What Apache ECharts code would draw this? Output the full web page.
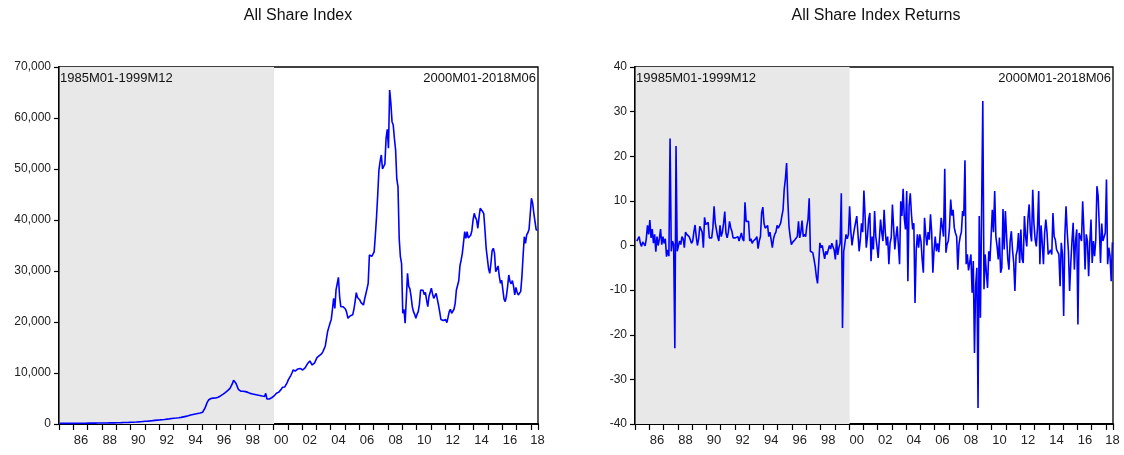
<!DOCTYPE html>
<html><head><meta charset="utf-8">
<script src="https://cdn.jsdelivr.net/npm/echarts@6/dist/echarts.min.js"></script>
<style>html,body{margin:0;padding:0;background:#fff}#c{width:1124px;height:455px}</style>
</head><body><div id="c"></div>
<script>
// ---- period ----
const startYear = 1985;
const endYear = 2018;
const endMonth = 6;
const shadeStart = '1985M01';
const shadeEnd = '2000M01';

// ---- All Share Index, monthly ----
const asi1985 = [117,118,119,120,121,122,123,124,125,126,126,127];
const asi1986 = [130,133,136,139,142,145,148,151,154,157,160,164];
const asi1987 = [166,168,170,172,174,176,178,180,183,185,188,191];
const asi1988 = [194,198,202,205,209,213,217,220,224,227,230,234];
const asi1989 = [240,247,254,261,268,275,283,290,298,306,315,325];
const asi1990 = [335,345,358,370,385,400,415,432,450,470,490,514];
const asi1991 = [530,550,570,590,612,635,660,685,710,735,760,783];
const asi1992 = [800,820,845,870,895,920,950,980,1010,1040,1075,1108];
const asi1993 = [1130,1150,1170,1190,1215,1250,1300,1350,1400,1450,1500,1544];
const asi1994 = [1600,1680,1750,1800,1850,1900,1950,2000,2050,2100,2150,2205];
const asi1995 = [2300,2600,3100,3700,4300,4700,4900,5000,5050,5080,5100,5092];
const asi1996 = [5150,5250,5350,5500,5650,5800,6000,6150,6350,6550,6800,6992];
const asi1997 = [7300,7900,8600,8400,8000,7400,6800,6500,6450,6500,6420,6440];
const asi1998 = [6350,6300,6200,6100,6000,5950,5900,5850,5800,5750,5700,5673];
const asi1999 = [5600,5520,5480,5450,5400,6000,4900,4830,4900,5040,5150,5266];
const asi2000 = [5500,5700,6020,6100,6250,6340,6800,7200,7320,7270,7600,8111];
const asi2001 = [8700,8960,9500,10000,10590,10500,10400,10600,10800,11040,10900,10963];
const asi2002 = [10590,10800,11000,11300,11800,12100,12350,12000,11570,11800,12000,12138];
const asi2003 = [13000,13330,13400,13500,13800,14200,14510,15300,16800,18200,19000,19800];
const asi2004 = [20500,22500,24640,22680,26280,27500,28760,25000,23000,22680,23000,23270];
const asi2005 = [22500,21800,20730,21000,21240,21500,21400,22500,24000,25750,24800,24710];
const asi2006 = [24300,23800,23500,23330,24500,25500,26500,27590,33140,33000,32860,33189];
const asi2007 = [33740,37000,40650,45000,49800,51500,52750,50000,50000,51000,56000,57790];
const asi2008 = [54060,65500,63000,59280,58630,55950,53730,48000,46540,36410,32800,31450];
const asi2009 = [21700,22500,19750,24600,29550,27000,26500,24970,23000,22030,21500,20730];
const asi2010 = [21500,22020,23500,26280,26400,26220,25360,25800,24300,23000,25000,24800];
const asi2011 = [26610,25500,24650,25000,25630,24500,23330,22000,20500,20390,20300,20070];
const asi2012 = [20500,19870,20900,22030,22500,21700,21700,22500,23660,26280,26600,28078];
const asi2013 = [31000,32160,33470,33470,37710,36400,37700,36500,36400,37000,37900,40000];
const asi2014 = [41320,40500,40000,38380,40500,42300,42000,41670,41210,38000,34450,34450];
const asi2015 = [30500,29550,31500,34000,34450,33500,29870,30200,30990,29000,27590,28200];
const asi2016 = [28200,24500,23980,25100,27000,29220,27900,27500,28110,27000,25300,26800];
const asi2017 = [25800,25300,25600,26000,28890,33000,36730,35420,37060,37500,38180,38243];
const asi2018 = [44260,43300,41320,41000,38050,38050];

// ---- All Share Index Returns, monthly % ----
const ret1985 = [null,1.0,1.5,2.0,0.5,-0.2,0.8,0.6,-0.1,1.5,4.5,2.5];
const ret1986 = [5.7,1.7,3.7,0.5,2.5,-1.4,2.0,0.0,1.5,3.7,0.2,2.0];
const ret1987 = [0.5,1.5,-2.5,-1.0,-2.4,24.0,-1.3,1.0,0.3,-23.0,22.3,-1.3];
const ret1988 = [-1.3,1.0,0.2,2.0,1.5,-0.5,3.0,2.5,2.8,2.0,1.3,0.5];
const ret1989 = [1.0,3.0,4.6,2.0,0.0,1.5,4.3,4.4,3.0,-0.5,6.3,4.7];
const ret1990 = [5.0,5.2,1.7,2.0,1.7,4.0,8.8,5.0,3.5,2.0,1.0,4.5];
const ret1991 = [2.0,3.0,5.0,7.6,2.8,1.7,3.0,5.4,4.0,3.2,1.7,2.0];
const ret1992 = [1.7,1.5,2.0,1.0,0.6,2.8,1.5,1.0,9.7,5.4,5.3,5.4];
const ret1993 = [1.0,1.5,0.5,1.0,1.0,1.5,2.0,-0.7,1.0,2.0,7.3,8.6];
const ret1994 = [5.0,3.9,4.0,4.5,2.0,3.0,2.8,-0.5,1.5,2.5,3.0,4.5];
const ret1995 = [3.9,3.7,5.0,6.6,8.0,12.6,15.0,18.5,10.3,4.3,2.0,0.2];
const ret1996 = [0.7,1.0,1.3,1.5,2.0,5.4,1.7,3.0,5.6,2.0,2.5,2.0];
const ret1997 = [4.3,5.8,10.6,-1.3,-1.0,-1.6,-3.0,-4.6,-6.9,-8.5,-4.0,0.6];
const ret1998 = [-0.5,0.0,0.1,-3.0,-1.3,-2.0,-2.4,0.0,-0.8,0.5,0.2,-1.0];
const ret1999 = [-3.1,1.3,-2.1,-0.5,0.5,11.7,-18.5,-1.4,0.5,2.5,1.5,2.5];
const ret2000 = [8.8,3.2,0.0,2.0,3.7,4.0,6.6,7.0,-1.3,1.3,5.0,3.0];
const ret2001 = [12.3,6.6,-0.5,2.0,5.9,7.3,-3.5,2.0,-0.9,7.7,2.0,-0.2];
const ret2002 = [-2.8,1.5,5.8,3.0,1.0,8.0,3.0,0.0,2.0,-4.2,0.5,1.8];
const ret2003 = [9.2,4.0,-0.9,2.0,4.3,4.3,-4.2,9.9,6.6,12.7,6.0,3.6];
const ret2004 = [12.2,-8.0,8.8,11.7,7.0,3.6,5.0,-12.9,-1.0,2.5,-0.5,2.5];
const ret2005 = [1.0,-3.1,-6.1,6.2,2.5,0.0,3.0,1.3,7.0,3.0,-6.1,-1.0];
const ret2006 = [2.0,-1.3,0.5,-1.5,2.0,6.2,6.0,2.0,17.2,-1.6,0.3,1.0];
const ret2007 = [4.0,10.3,6.7,8.0,4.0,2.8,2.0,-5.4,0.3,2.0,3.0,7.7];
const ret2008 = [6.6,19.1,-4.2,-2.0,-5.6,-5.3,-2.0,-10.6,-3.5,-24.1,-9.0,-5.0];
const ret2009 = [-36.4,6.6,-16.2,8.0,32.4,-9.8,-2.0,-6.1,-9.5,-1.3,-3.5,2.0];
const ret2010 = [8.0,3.0,12.2,2.0,-0.2,-3.1,1.8,-6.1,-5.0,8.2,-0.9,7.7];
const ret2011 = [2.2,-3.0,-5.4,1.0,3.2,-1.0,-3.9,-10.2,-2.2,-1.0,2.8,-3.9];
const ret2012 = [3.6,-3.0,-3.9,6.6,2.0,-0.2,6.2,9.2,3.0,0.9,12.5,5.0];
const ret2013 = [1.4,-0.2,4.0,12.2,-4.2,4.5,0.5,-4.2,2.8,5.8,3.0,-2.0];
const ret2014 = [-2.4,-1.0,-2.0,7.3,2.0,1.3,-0.9,-0.9,-2.0,-9.1,0.6,-2.0];
const ret2015 = [-15.8,2.2,8.8,3.0,-1.3,-10.2,-3.9,1.0,5.1,-5.4,1.0,3.6];
const ret2016 = [-17.7,2.8,2.8,1.0,9.9,3.6,-5.4,2.5,1.0,-6.9,0.6,5.8];
const ret2017 = [-3.9,1.0,-2.4,1.3,13.3,11.1,4.0,-3.9,4.9,1.0,1.3,2.8];
const ret2018 = [14.8,-4.2,-0.5,-2.4,-8.0,0.7];

// ---- tick values ----
const indexTicks = [0,10000,20000,30000,40000,50000,60000,70000];
const returnTicks = [-40,-30,-20,-10,0,10,20,30,40];

// ---- titles / notes ----
const titleLeft = 'All Share Index';
const titleRight = 'All Share Index Returns';
const noteLeftA = '1985M01-1999M12';
const noteLeftB = '2000M01-2018M06';
const noteRightA = '19985M01-1999M12';
const noteRightB = '2000M01-2018M06';

// ---- build ----
const months = [];
for (let y = startYear; y <= endYear; y++) {
  for (let m = 1; m <= 12; m++) {
    if (y === endYear && m > endMonth) break;
    months.push(y + 'M' + (m < 10 ? '0' + m : m));
  }
}
const asi = [].concat(asi1985,asi1986,asi1987,asi1988,asi1989,asi1990,asi1991,asi1992,asi1993,asi1994,
  asi1995,asi1996,asi1997,asi1998,asi1999,asi2000,asi2001,asi2002,asi2003,asi2004,asi2005,asi2006,
  asi2007,asi2008,asi2009,asi2010,asi2011,asi2012,asi2013,asi2014,asi2015,asi2016,asi2017,asi2018);
const ret = [].concat(ret1985,ret1986,ret1987,ret1988,ret1989,ret1990,ret1991,ret1992,ret1993,ret1994,
  ret1995,ret1996,ret1997,ret1998,ret1999,ret2000,ret2001,ret2002,ret2003,ret2004,ret2005,ret2006,
  ret2007,ret2008,ret2009,ret2010,ret2011,ret2012,ret2013,ret2014,ret2015,ret2016,ret2017,ret2018);

const FONT = '"Liberation Sans", Arial, sans-serif';
const lastIdx = months.length - 1;
function showLabel(index, value) {
  if (index === lastIdx) return true;
  return value.slice(5) === '07' && (+value.slice(0, 4)) % 2 === 0;
}
function showTick(index, value) { return value.slice(5) === '01'; }
function fmtThousands(v) { return String(v).replace(/\B(?=(\d{3})+(?!\d))/g, ','); }

function xAxisFor(gi) {
  return {
    type: 'category', gridIndex: gi, data: months, boundaryGap: true,
    axisLine: { show: true, onZero: false, lineStyle: { color: '#000', width: 2 } },
    axisTick: { show: true, interval: showTick, inside: false, length: 6, lineStyle: { color: '#000', width: 1.2 } },
    axisLabel: { interval: showLabel, formatter: v => v.slice(2, 4), color: '#222', fontFamily: FONT, fontSize: 13, margin: 10 },
    splitLine: { show: false }
  };
}
function yAxisFor(gi, min, max, step, fmt) {
  return {
    type: 'value', gridIndex: gi, min: min, max: max, interval: step,
    axisLine: { show: true, onZero: false, lineStyle: { color: '#000', width: 2 } },
    axisTick: { show: true, inside: false, length: 5, lineStyle: { color: '#000', width: 1.2 } },
    axisLabel: { formatter: fmt, color: '#222', fontFamily: FONT, fontSize: 12, margin: 8 },
    splitLine: { show: false }
  };
}
const shade = {
  silent: true,
  itemStyle: { color: '#E8E8E8' },
  data: [[{ xAxis: shadeStart }, { xAxis: shadeEnd }]]
};

const chart = echarts.init(document.getElementById('c'), null, { renderer: 'canvas' });
chart.setOption({
  animation: false,
  backgroundColor: '#fff',
  grid: [
    { left: 59, top: 67, width: 479, height: 357, show: true, borderColor: '#000', borderWidth: 1.3, backgroundColor: 'transparent' },
    { left: 635, top: 67, width: 478, height: 357, show: true, borderColor: '#000', borderWidth: 1.3, backgroundColor: 'transparent' }
  ],
  xAxis: [xAxisFor(0), xAxisFor(1)],
  yAxis: [
    yAxisFor(0, indexTicks[0], indexTicks[indexTicks.length - 1], indexTicks[1] - indexTicks[0], fmtThousands),
    yAxisFor(1, returnTicks[0], returnTicks[returnTicks.length - 1], returnTicks[1] - returnTicks[0], v => String(v))
  ],
  series: [
    { type: 'line', xAxisIndex: 0, yAxisIndex: 0, data: asi, showSymbol: false, symbol: 'none',
      lineStyle: { color: '#0000FF', width: 1.6 }, markArea: shade },
    { type: 'line', xAxisIndex: 1, yAxisIndex: 1, data: ret, showSymbol: false, symbol: 'none',
      lineStyle: { color: '#0000FF', width: 1.6 }, markArea: shade }
  ],
  graphic: [
    { type: 'text', x: 298, y: 8, style: { text: titleLeft, align: 'center', verticalAlign: 'top', font: '16px ' + FONT, fill: '#111' } },
    { type: 'text', x: 876, y: 8, style: { text: titleRight, align: 'center', verticalAlign: 'top', font: '16px ' + FONT, fill: '#111' } },
    { type: 'text', x: 60, y: 72, z: 100, style: { text: noteLeftA, align: 'left', verticalAlign: 'top', font: '13px ' + FONT, fill: '#111' } },
    { type: 'text', x: 536, y: 72, z: 100, style: { text: noteLeftB, align: 'right', verticalAlign: 'top', font: '13px ' + FONT, fill: '#111' } },
    { type: 'text', x: 636, y: 72, z: 100, style: { text: noteRightA, align: 'left', verticalAlign: 'top', font: '13px ' + FONT, fill: '#111' } },
    { type: 'text', x: 1111, y: 72, z: 100, style: { text: noteRightB, align: 'right', verticalAlign: 'top', font: '13px ' + FONT, fill: '#111' } }
  ]
});
</script>
</body></html>
